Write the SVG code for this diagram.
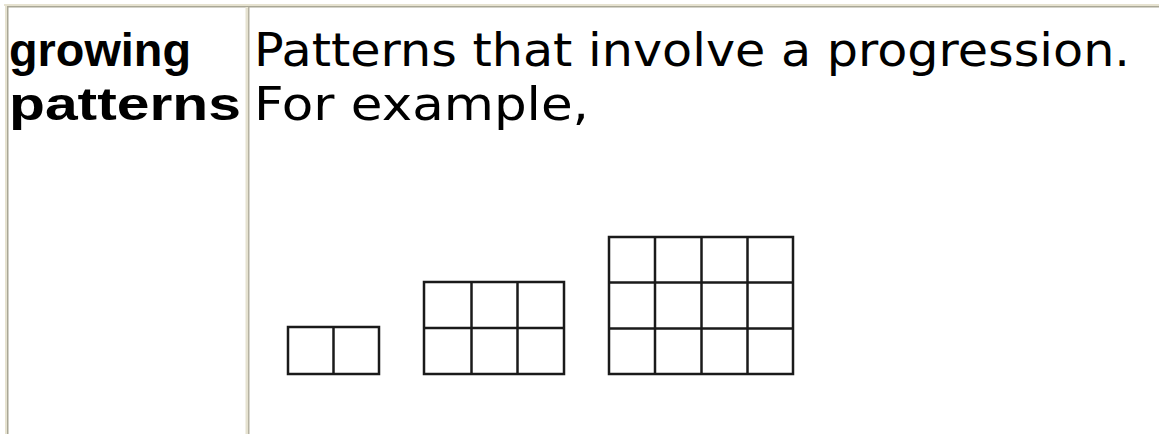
<svg xmlns="http://www.w3.org/2000/svg" width="1159" height="434" viewBox="0 0 1159 434">
<style>
.t{font-family:"DejaVu Sans","Noto Sans",sans-serif;font-size:46px;fill:#000}
.b{font-family:"Liberation Sans","Noto Sans",sans-serif;font-weight:bold;font-size:47px}
.g{fill:none;stroke:#1a1a1a;stroke-width:2.5}
</style>
<rect width="1159" height="434" fill="#fff"/>
<g id="table">
<rect x="4" y="4" width="1155" height="2" fill="#e6e2d0"/>
<rect x="6" y="6" width="1153" height="1.5" fill="#a9a796"/>
<rect x="5" y="4" width="2" height="430" fill="#e6e2d0"/>
<rect x="7" y="7" width="1.5" height="427" fill="#a9a796"/>
<rect x="245.5" y="7" width="2.5" height="427" fill="#e6e2d0"/>
<rect x="248" y="7" width="1.5" height="427" fill="#b5b2a2"/>
</g>
<g id="term">
<text class="t b" x="9" y="66" textLength="182" lengthAdjust="spacingAndGlyphs">growing</text>
<text class="t b" x="9" y="120" textLength="232" lengthAdjust="spacingAndGlyphs">patterns</text>
</g>
<g id="definition">
<text class="t" x="254" y="66" textLength="876" lengthAdjust="spacingAndGlyphs">Patterns that involve a progression.</text>
<text class="t" x="254" y="120" textLength="335" lengthAdjust="spacingAndGlyphs">For example,</text>
</g>
<g id="pattern1">
<rect class="g" x="288" y="327" width="91" height="47"/>
<line class="g" x1="333.5" y1="327" x2="333.5" y2="374"/>
</g>
<g id="pattern2">
<rect class="g" x="424" y="282" width="140" height="92"/>
<line class="g" x1="424" y1="328" x2="564" y2="328"/>
<line class="g" x1="471.5" y1="282" x2="471.5" y2="374"/>
<line class="g" x1="517.5" y1="282" x2="517.5" y2="374"/>
</g>
<g id="pattern3">
<rect class="g" x="609" y="237" width="184" height="137"/>
<line class="g" x1="609" y1="282.5" x2="793" y2="282.5"/>
<line class="g" x1="609" y1="328.5" x2="793" y2="328.5"/>
<line class="g" x1="655" y1="237" x2="655" y2="374"/>
<line class="g" x1="701.5" y1="237" x2="701.5" y2="374"/>
<line class="g" x1="747.5" y1="237" x2="747.5" y2="374"/>
</g>
</svg>
